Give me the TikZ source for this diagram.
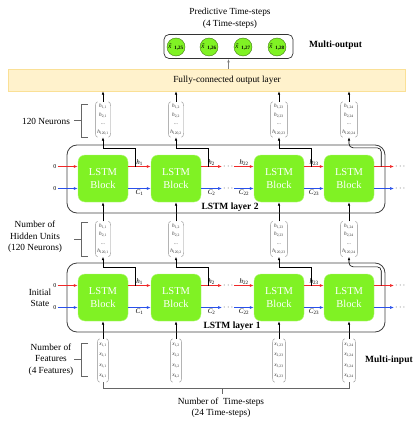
\documentclass[tikz,border=0pt]{standalone}
\usepackage{fontspec}
\setmainfont{Liberation Serif}
\usetikzlibrary{arrows.meta}
\definecolor{lstmgreen}{RGB}{128,242,36}
\definecolor{fcfill}{RGB}{255,242,204}
\definecolor{fcedge}{RGB}{250,224,150}
\definecolor{hred}{RGB}{240,40,40}
\definecolor{cblue}{RGB}{40,80,235}
\newcommand{\vent}[2]{\textit{#1}\textsubscript{#2}}
\tikzset{
	block/.style={fill=lstmgreen, draw=lstmgreen!60!white, rounded corners=7pt, minimum width=50pt, minimum height=47pt, inner sep=0pt, align=center, text=white, font=\fontsize{10.5}{13}\selectfont},
	hvec/.style={inner xsep=1.5pt, inner ysep=2pt, minimum height=35pt, align=center, text=black!80, font=\fontsize{5.3}{8.6}\selectfont},
	xvec/.style={hvec, minimum height=43pt, font=\fontsize{5.3}{10.3}\selectfont},
	paren/.style={draw=black!45, line width=0.4pt},
	lbl/.style={font=\fontsize{9.3}{11.5}\selectfont, align=center, inner sep=1pt},
	boldlbl/.style={font=\fontsize{9.5}{11}\selectfont\bfseries, inner sep=1pt},
	arrlbl/.style={font=\fontsize{7}{8}\selectfont, inner sep=1pt},
	zero/.style={font=\fontsize{6}{7}\selectfont, inner sep=1pt},
	dots/.style={font=\fontsize{8}{9}\selectfont, inner sep=1pt},
	harrow/.style={draw=hred, line width=0.7pt, -{Latex[length=4pt,width=3pt]}},
	carrow/.style={draw=cblue, line width=0.7pt, -{Latex[length=4pt,width=3pt]}},
	uparrow/.style={draw=black, line width=0.6pt, -{Latex[length=3.5pt,width=2.6pt]}},
	route/.style={uparrow},
	layerbox/.style={draw=black!75, line width=0.8pt, rounded corners=10pt},
	brk/.style={draw=black!60, line width=0.5pt},
	ybox/.style={circle, fill=lstmgreen, draw=lstmgreen!50!black, minimum size=18pt, inner sep=0pt, font=\fontsize{7}{8}\selectfont},
}
\begin{document}
\begin{tikzpicture}[x=1pt,y=-1pt]
	\useasboundingbox (0,0) rectangle (415,428);
	\node[lbl] (title) at (230,18.5) {Predictive Time-steps\\(4 Time-steps)};
	\node[draw=black!80, line width=0.7pt, rounded corners=5pt, minimum width=129pt, minimum height=24pt] (outbox) at (228.5,46.5) {};
	\foreach \c/\x/\t in {1/176/25, 2/209/26, 3/243/27, 4/277/28}
		\node[ybox] (y\c) at (\x,47) {\textit{\~{x}}\textsubscript{\textbf{1,\t}}};
	\node[boldlbl, anchor=west] (mout) at (308,45) {Multi-output};
	\node[fill=fcfill, draw=fcedge, minimum width=397pt, minimum height=22pt] (fc) at (206.5,80) {};
	\node[lbl] (fctext) at (227,80) {Fully-connected output layer};
	\draw[uparrow, draw=black!50] (fc.north -| outbox.south) -- (outbox.south);

	\foreach \c/\x/\t in {1/103/1, 2/176/2, 3/279/23, 4/349/24} {
		\node[hvec] (ht\c) at (\x,119.5) {\vent{h}{1,\t}\\\vent{h}{2,\t}\\...\\\vent{h}{120,\t}};
		\node[block] (l2b\c) at (\x,178.5) {LSTM\\Block};
		\node[hvec] (hm\c) at (\x,239) {\vent{h}{1,\t}\\\vent{h}{2,\t}\\...\\\vent{h}{120,\t}};
		\node[block] (l1b\c) at (\x,297.5) {LSTM\\Block};
		\node[xvec] (xin\c) at (\x,360.5) {\vent{x}{1,\t}\\\vent{x}{2,\t}\\\vent{x}{3,\t}\\\vent{x}{4,\t}};
		\draw[uparrow] (ht\c.north) -- (ht\c.north |- fc.south);
		\draw[uparrow] (hm\c) -- (l2b\c);
		\draw[uparrow] (xin\c) -- (l1b\c);
	}
	\foreach \v in {ht1,ht2,ht3,ht4,hm1,hm2,hm3,hm4,xin1,xin2,xin3,xin4} {
		\draw[paren] ([xshift=2pt]\v.north west) to[out=180,in=90] ([yshift=-4pt]\v.north west) -- ([yshift=4pt]\v.south west) to[out=-90,in=180] ([xshift=2pt]\v.south west);
		\draw[paren] ([xshift=-2pt]\v.north east) to[out=0,in=90] ([yshift=-4pt]\v.north east) -- ([yshift=4pt]\v.south east) to[out=-90,in=0] ([xshift=-2pt]\v.south east);
	}

	\draw[layerbox] (67,145) rectangle (385,213);
	\draw[layerbox] (67,263) rectangle (385,332);
	\node[boldlbl] (l2name) at (230,207) {LSTM layer 2};
	\node[boldlbl] (l1name) at (232,326) {LSTM layer 1};

	\foreach \l/\v in {1/hm, 2/ht} {
		\node[zero] (h0-\l) at ([xshift=-23pt,yshift=12pt]l\l b1.west) {0};
		\node[zero] (c0-\l) at ([xshift=-23pt,yshift=-10pt]l\l b1.west) {0};
		\draw[harrow] (h0-\l) -- ([yshift=12pt]l\l b1.west);
		\draw[carrow] (c0-\l) -- ([yshift=-10pt]l\l b1.west);
		\draw[harrow] ([yshift=12pt]l\l b1.east) -- ([yshift=12pt]l\l b2.west) node[midway, above, arrlbl] {\vent{h}{1}};
		\draw[carrow] ([yshift=-10pt]l\l b1.east) -- ([yshift=-10pt]l\l b2.west) node[midway, below, arrlbl] {\vent{C}{1}};
		\node[dots] (hd-\l) at ([xshift=27pt,yshift=12pt]l\l b2.east) {$\cdots$};
		\node[dots] (cd-\l) at ([xshift=27pt,yshift=-10pt]l\l b2.east) {$\cdots$};
		\draw[harrow] ([yshift=12pt]l\l b2.east) -- (hd-\l) node[midway, above, arrlbl] {\vent{h}{2}};
		\draw[carrow] ([yshift=-10pt]l\l b2.east) -- (cd-\l) node[midway, below, arrlbl] {\vent{C}{2}};
		\draw[harrow] (hd-\l) -- ([yshift=12pt]l\l b3.west) node[midway, above, arrlbl] {\vent{h}{22}};
		\draw[carrow] (cd-\l) -- ([yshift=-10pt]l\l b3.west) node[midway, below, arrlbl] {\vent{C}{22}};
		\draw[harrow] ([yshift=12pt]l\l b3.east) -- ([yshift=12pt]l\l b4.west) node[midway, above, arrlbl] {\vent{h}{23}};
		\draw[carrow] ([yshift=-10pt]l\l b3.east) -- ([yshift=-10pt]l\l b4.west) node[midway, below, arrlbl] {\vent{C}{23}};
		\node[dots] (he-\l) at ([xshift=26pt,yshift=12pt]l\l b4.east) {$\cdots$};
		\node[dots] (ce-\l) at ([xshift=26pt,yshift=-10pt]l\l b4.east) {$\cdots$};
		\draw[harrow] ([yshift=12pt]l\l b4.east) -- (he-\l);
		\draw[carrow] ([yshift=-10pt]l\l b4.east) -- (ce-\l);
		\foreach \c in {1,2,3}
			\draw[route] ([xshift=7pt,yshift=12pt]l\l b\c.east) -- ([xshift=7pt,yshift=7pt]l\l b\c.north east) -| (\v\c.south);
		\draw[route, rounded corners=4pt] ([xshift=7pt,yshift=12pt]l\l b4.east) -- ([xshift=7pt,yshift=7pt]l\l b4.north east) -| (\v4.south);
	}

	\draw[brk] (88,104) -- (81,104) -- (81,137) -- (88,137) (81,120.5) -- (74,120.5);
	\node[lbl] (neurons) at (46,121.5) {120 Neurons};
	\draw[brk] (88,222) -- (81,222) -- (81,256) -- (88,256) (81,239) -- (74,239);
	\node[lbl] (hidden) at (35,237) {Number of\\Hidden Units\\(120 Neurons)};
	\node[lbl] (init) at (40,298) {Initial\\State};
	\draw[brk] (88,343) -- (81,343) -- (81,376) -- (88,376) (81,359.5) -- (74,359.5);
	\node[lbl] (features) at (51,359.5) {Number of\\Features\\(4 Features)};
	\node[boldlbl, anchor=west] (minp) at (364,360) {Multi-input};
	\draw[brk] (xin1.south) -- ++(0,6) -| (xin4.south);
	\draw[brk] (222,388) -- (222,394);
	\node[lbl] (tsteps) at (221,407.5) {Number of \ Time-steps\\(24 Time-steps)};
\end{tikzpicture}
\end{document}
